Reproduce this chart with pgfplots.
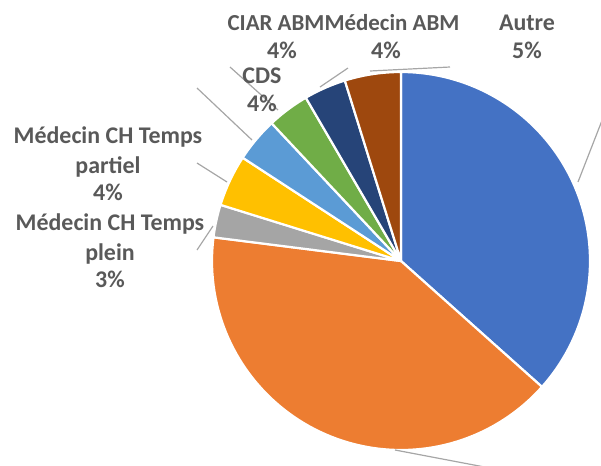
\documentclass[border=0pt]{standalone}
\usepackage{pgfplots}
\usepackage{pgfplotstable}
\pgfplotsset{compat=1.18}
\usepackage{fontspec}
\setmainfont{Carlito}
\definecolor{cBlue}{HTML}{4472C4}
\definecolor{cOrange}{HTML}{ED7D31}
\definecolor{cGray}{HTML}{A5A5A5}
\definecolor{cYellow}{HTML}{FFC000}
\definecolor{cLBlue}{HTML}{5B9BD5}
\definecolor{cGreen}{HTML}{70AD47}
\definecolor{cDBlue}{HTML}{264478}
\definecolor{cBrown}{HTML}{9E480E}
\definecolor{txt}{HTML}{595959}
\definecolor{lead}{HTML}{A6A6A6}
\pgfplotstableread{
pct col
36.6 cBlue
40.4 cOrange
2.8 cGray
4.4 cYellow
3.8 cLBlue
3.6 cGreen
3.6 cDBlue
4.8 cBrown
}\piedata
\begin{document}
\begin{tikzpicture}
\useasboundingbox (0,0) rectangle (601bp,466bp);
\clip (0,0) rectangle (601bp,466bp);
\gdef\cum{0}
\foreach \i in {0,...,7}{
  \pgfplotstablegetelem{\i}{pct}\of\piedata
  \let\p\pgfplotsretval
  \pgfmathsetmacro\aa{\cum*3.6}
  \pgfmathsetmacro\bb{(\cum+\p)*3.6}
  \pgfmathsetmacro\nc{\cum+\p}
  \expandafter\xdef\csname sa\i\endcsname{\aa}
  \expandafter\xdef\csname sb\i\endcsname{\bb}
  \pgfplotstablegetelem{\i}{col}\of\piedata
  \expandafter\xdef\csname sc\i\endcsname{\pgfplotsretval}
  \xdef\cum{\nc}
}
\begin{axis}[x=1bp, y=1bp, hide axis, xmin=0, xmax=601, ymin=0, ymax=466,
  y dir=reverse, at={(0,0)}, anchor=south west, clip=false]
\pgfplotsinvokeforeach{0,...,7}{
  \addplot[fill=\csname sc#1\endcsname, draw=white, line width=2.2bp, line join=round,
    domain=\csname sa#1\endcsname:\csname sb#1\endcsname, samples=80, variable=\t]
    ({401+189*sin(t)},{261-189*cos(t)}) -- (axis cs:401,261) -- cycle;
}
% leader lines
\draw[lead, line width=1.2bp] (axis cs:197,250) -- (axis cs:213,226);
\draw[lead, line width=1.2bp] (axis cs:197,163) -- (axis cs:227,182);
\draw[lead, line width=1.2bp] (axis cs:197,88) -- (axis cs:252,140);
\draw[lead, line width=1.2bp] (axis cs:230,67) -- (axis cs:278,110);
\draw[lead, line width=1.2bp] (axis cs:320,87) -- (axis cs:348,68);
\draw[lead, line width=1.2bp] (axis cs:370,71) -- (axis cs:450,67);
\draw[lead, line width=1.2bp] (axis cs:578,182) -- (axis cs:610,100);
\draw[lead, line width=1.2bp] (axis cs:395,450) -- (axis cs:495,469);
% labels
\tikzset{lbl/.style={anchor=base, inner sep=0pt, text=txt, font=\fontsize{24}{28}\selectfont\bfseries}}
\node[lbl, font=\fontsize{23}{28}\selectfont\bfseries] at (axis cs:276,30) {CIAR ABM};
\node[lbl] at (axis cs:282,58) {4\%};
\node[lbl, font=\fontsize{23}{28}\selectfont\bfseries] at (axis cs:392,30) {Médecin ABM};
\node[lbl] at (axis cs:386,58) {4\%};
\node[lbl] at (axis cs:527,30) {Autre};
\node[lbl] at (axis cs:527,58) {5\%};
\node[lbl] at (axis cs:262,83) {CDS};
\node[lbl] at (axis cs:262,111) {4\%};
\node[lbl] at (axis cs:108,143) {Médecin CH Temps};
\node[lbl] at (axis cs:108,173) {partiel};
\node[lbl] at (axis cs:108,200) {4\%};
\node[lbl] at (axis cs:110,230) {Médecin CH Temps};
\node[lbl] at (axis cs:110,260) {plein};
\node[lbl] at (axis cs:110,287) {3\%};
\end{axis}
\end{tikzpicture}
\end{document}
